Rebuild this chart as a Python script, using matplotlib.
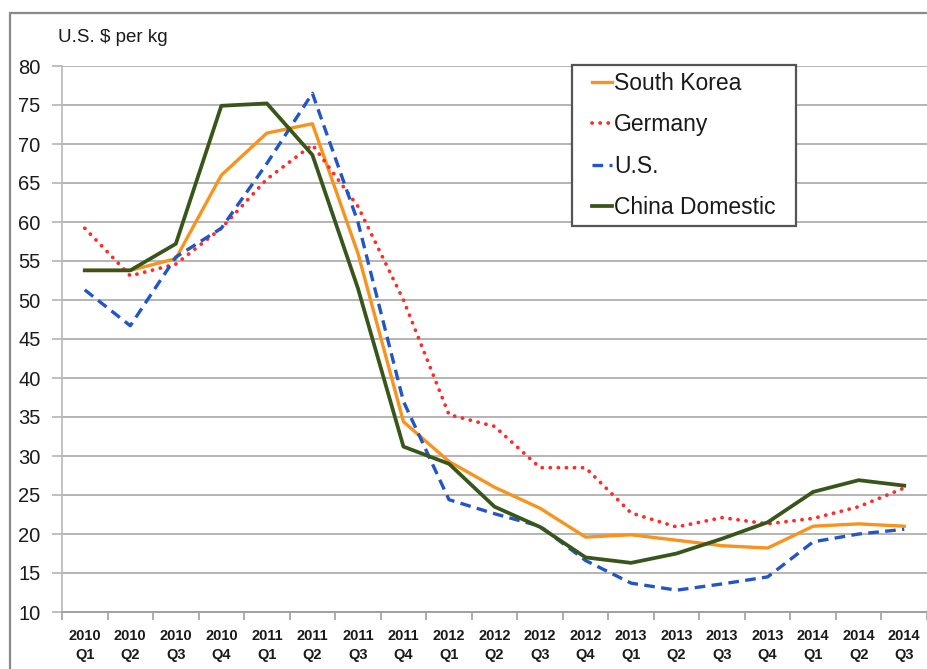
import matplotlib
matplotlib.use("Agg")
import matplotlib.pyplot as plt
from matplotlib.patches import Rectangle
from matplotlib.legend_handler import HandlerLine2D
import numpy as np

plt.rcParams['font.family'] = ['Liberation Sans', 'DejaVu Sans']

quarters = ["2010\nQ1", "2010\nQ2", "2010\nQ3", "2010\nQ4",
            "2011\nQ1", "2011\nQ2", "2011\nQ3", "2011\nQ4",
            "2012\nQ1", "2012\nQ2", "2012\nQ3", "2012\nQ4",
            "2013\nQ1", "2013\nQ2", "2013\nQ3", "2013\nQ4",
            "2014\nQ1", "2014\nQ2", "2014\nQ3"]

south_korea = [53.8, 53.8, 55.3, 66.0, 71.4, 72.6, 56.0, 34.4, 29.3, 26.0,
               23.3, 19.6, 19.9, 19.2, 18.5, 18.2, 21.0, 21.3, 21.0]
germany = [59.2, 53.1, 54.6, 59.2, 65.5, 69.9, 62.0, 50.0, 35.3, 33.8,
           28.5, 28.5, 22.7, 20.9, 22.1, 21.3, 22.0, 23.5, 25.9]
us = [51.3, 46.7, 55.5, 59.2, 67.5, 76.5, 60.0, 37.0, 24.4, 22.6,
      21.0, 16.6, 13.7, 12.8, 13.6, 14.5, 19.0, 20.0, 20.6]
china = [53.8, 53.8, 57.2, 74.9, 75.2, 68.6, 51.5, 31.2, 29.0, 23.5,
         20.9, 17.0, 16.3, 17.5, 19.4, 21.5, 25.4, 26.9, 26.2]

yticks = list(range(10, 81, 5))


class ShiftedLineHandler(HandlerLine2D):
    """Legend line drawn only on the right part of the handle box."""
    def get_xdata(self, legend, xdescent, ydescent, width, height, fontsize):
        x0 = -xdescent + width * 0.38
        x1 = -xdescent + width
        xd = np.array([x0, x1])
        return xd, np.array([(x0 + x1) / 2])


fig = plt.figure(figsize=(9.27, 6.69), dpi=100)
ax = fig.add_axes([62/927, 57/669, 865/927, 546/669])

# outer frame
fig.patches.append(Rectangle((10/927, -0.05), 1.2, (669-13)/669 + 0.05,
                             transform=fig.transFigure, fill=False,
                             edgecolor='#8a8a8a', linewidth=1.6, zorder=0))

x = np.arange(len(quarters))
lw = 2.4
l1, = ax.plot(x, south_korea, color='#F7931E', lw=lw, label='South Korea', zorder=3)
l2, = ax.plot(x, germany, color='#FF2A2A', lw=lw + 0.3, linestyle=(0, (0.05, 2.1)),
              dash_capstyle='round', label='Germany', zorder=3)
l3, = ax.plot(x, us, color='#2255C8', lw=lw, linestyle=(0, (3.2, 1.9)), label='U.S.', zorder=3)
l4, = ax.plot(x, china, color='#38561A', lw=lw + 0.3, label='China Domestic', zorder=4)

ax.set_xlim(-0.5, len(quarters) - 0.5)
ax.set_ylim(10, 80)
ax.set_yticks(yticks)
ax.set_yticklabels([str(v) for v in yticks], fontsize=14.5, color='#1a1a1a')
ax.grid(axis='y', color='#b4b4b4', linewidth=1.4)
ax.set_axisbelow(True)

ax.set_xticks(x)
ax.set_xticklabels(quarters, fontsize=10.5, fontweight='bold', color='#1a1a1a',
                   linespacing=1.5)
ax.set_xticks(np.arange(-0.5, len(quarters)), minor=True)
ax.tick_params(axis='x', which='major', length=0, pad=12)
ax.tick_params(axis='x', which='minor', length=6, color='#a0a0a0', width=1.2)
ax.tick_params(axis='y', length=7, color='#b4b4b4', width=1.2, pad=8.5)

for s in ['top', 'right']:
    ax.spines[s].set_visible(False)
ax.spines['left'].set_color('#b8b8b8')
ax.spines['left'].set_linewidth(1.2)
ax.spines['bottom'].set_color('#a0a0a0')
ax.spines['bottom'].set_linewidth(1.4)

fig.text(58/927, 1 - 38/669, 'U.S. $ per kg', fontsize=13.5, color='#1a1a1a',
         va='center', ha='left')

lx0 = (572 - 62) / 865
lw_ax = (796 - 572) / 865
ltop = (612 - 65) / 546
lbot = (612 - 225) / 546
h = ShiftedLineHandler()
leg = ax.legend(handles=[l1, l2, l3, l4],
                loc='upper left', bbox_to_anchor=(lx0, lbot, lw_ax, ltop - lbot),
                mode='expand', borderaxespad=0,
                fontsize=16.5, handlelength=1.45, handletextpad=0.08,
                labelspacing=0.8, borderpad=0.3, fancybox=False,
                edgecolor='#555555', framealpha=1,
                handler_map={l1: h, l2: h, l3: h, l4: h})
leg.get_frame().set_linewidth(1.6)
for t in leg.get_texts():
    t.set_color('#1a1a1a')

fig.savefig('out.png', dpi=100)
